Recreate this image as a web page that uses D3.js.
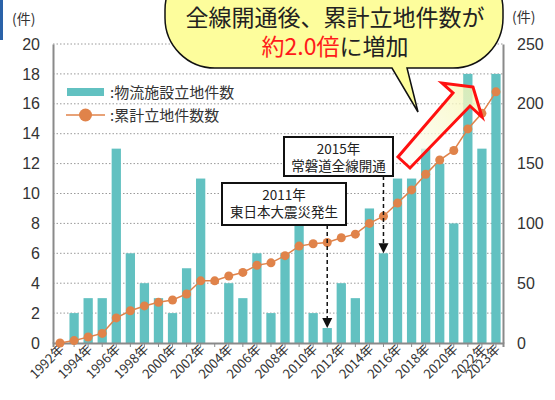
<!DOCTYPE html>
<html>
<head>
<meta charset="utf-8">
<script src="https://cdn.jsdelivr.net/npm/d3@7"></script>
<style>
  body { margin: 0; background: #fff; }
  svg { display: block; font-family: "Noto Sans CJK JP", "Noto Sans", sans-serif; }
</style>
</head>
<body>
<div class="chart"></div>
<script>
// data
const years = d3.range(1992, 2024).map(String);
const facilities = [0, 2, 3, 3, 13, 6, 4, 3, 2, 5, 11, 0, 4, 3, 6, 2,
                    6, 8, 2, 1, 4, 3, 9, 6, 11, 11, 13, 12, 8, 18, 13, 18];
const cumulative = [0, 2, 5, 8, 21, 27, 31, 34, 36, 41, 52, 52, 56, 59, 65, 67,
                    73, 81, 83, 84, 88, 91, 100, 106, 117, 128, 141, 153, 161, 179, 192, 210];
const leftTicks = [0, 2, 4, 6, 8, 10, 12, 14, 16, 18, 20];
const rightTicks = [0, 50, 100, 150, 200, 250];
const labelYears = ["1992", "1994", "1996", "1998", "2000", "2002", "2004", "2006", "2008",
                    "2010", "2012", "2014", "2016", "2018", "2020", "2022", "2023"];

const width = 555, height = 400;
const plot = {left: 53, right: 503, top: 44, bottom: 343};

const svg = d3.select('.chart')
  .append('svg')
  .attr('width', width)
  .attr('height', height);

const x = d3.scaleBand()
  .domain(years)
  .range([plot.left, plot.right])
  .paddingInner(0.34)
  .paddingOuter(0.17);

const yL = d3.scaleLinear().domain([0, 20]).range([plot.bottom, plot.top]);
const yR = d3.scaleLinear().domain([0, 250]).range([plot.bottom, plot.top]);

// little blue strip top left
svg.append('rect').attr('x', 0).attr('y', 0).attr('width', 3).attr('height', 40).attr('fill', '#2a62a8');

// grid
svg.append('g')
  .selectAll('line')
  .data(leftTicks.filter(d => d > 0))
  .join('line')
  .attr('x1', plot.left).attr('x2', plot.right)
  .attr('y1', d => yL(d)).attr('y2', d => yL(d))
  .attr('stroke', '#9a9a9a')
  .attr('stroke-width', 1)
  .attr('stroke-dasharray', '1.5,2');

// bars
svg.append('g')
  .selectAll('rect')
  .data(years.map((y, i) => ({year: y, v: facilities[i]})))
  .join('rect')
  .attr('x', d => x(d.year))
  .attr('y', d => yL(d.v))
  .attr('width', x.bandwidth())
  .attr('height', d => plot.bottom - yL(d.v))
  .attr('fill', '#62c1c1');

// axes
const leftAxis = svg.append('g')
  .attr('transform', `translate(${plot.left},0)`)
  .call(d3.axisLeft(yL).tickValues(leftTicks).tickSize(0).tickPadding(13));
const rightAxis = svg.append('g')
  .attr('transform', `translate(${plot.right},0)`)
  .call(d3.axisRight(yR).tickValues(rightTicks).tickSize(0).tickPadding(14));
const bottomAxis = svg.append('g')
  .attr('transform', `translate(0,${plot.bottom})`)
  .call(d3.axisBottom(x).tickSize(4).tickFormat(''));

[leftAxis, rightAxis, bottomAxis].forEach(g => {
  g.select('.domain').attr('stroke', '#8a8a8a').attr('stroke-width', 2);
  g.selectAll('.tick line').attr('stroke', '#8a8a8a');
});
leftAxis.selectAll('text').attr('font-size', 16).attr('fill', '#333');
rightAxis.selectAll('text').attr('font-size', 16).attr('fill', '#333');

// x labels, rotated
svg.append('g')
  .selectAll('text')
  .data(labelYears)
  .join('text')
  .attr('transform', d => `translate(${x(d) + x.bandwidth() / 2 + 5},${plot.bottom + 7}) rotate(-45)`)
  .attr('text-anchor', 'end')
  .attr('font-size', 13)
  .attr('fill', '#333')
  .text(d => d + '年');

// unit labels
svg.append('text').attr('x', 12).attr('y', 24).attr('font-size', 14).attr('fill', '#333').text('(件)');
svg.append('text').attr('x', 512).attr('y', 22).attr('font-size', 14).attr('fill', '#333').text('(件)');

// cumulative line
const line = d3.line()
  .x((d, i) => x(years[i]) + x.bandwidth() / 2)
  .y(d => yR(d));

svg.append('path')
  .datum(cumulative)
  .attr('d', line)
  .attr('fill', 'none')
  .attr('stroke', '#e0834a')
  .attr('stroke-width', 1.5);

svg.append('g')
  .selectAll('circle')
  .data(cumulative)
  .join('circle')
  .attr('cx', (d, i) => x(years[i]) + x.bandwidth() / 2)
  .attr('cy', d => yR(d))
  .attr('r', 4.5)
  .attr('fill', '#e0834a');

// legend
const legend = svg.append('g');
legend.append('rect').attr('x', 67).attr('y', 88).attr('width', 37).attr('height', 8).attr('fill', '#62c1c1');
legend.append('text').attr('x', 110).attr('y', 97.5).attr('font-size', 15).attr('fill', '#333').text(':物流施設立地件数');
legend.append('line').attr('x1', 66).attr('x2', 105).attr('y1', 115).attr('y2', 115)
  .attr('stroke', '#e0834a').attr('stroke-width', 1.5);
legend.append('circle').attr('cx', 85.5).attr('cy', 115).attr('r', 6.5).attr('fill', '#e0834a');
legend.append('text').attr('x', 110).attr('y', 120.5).attr('font-size', 15).attr('fill', '#333').text(':累計立地件数数');

// annotation boxes with dashed arrows
function note(cx, bx, by, bw, bh, lines, val) {
  const g = svg.append('g');
  const tipY = yL(val);
  g.append('line')
    .attr('x1', cx).attr('x2', cx)
    .attr('y1', by + bh).attr('y2', tipY - 8)
    .attr('stroke', '#111').attr('stroke-width', 1.5)
    .attr('stroke-dasharray', '4,3');
  g.append('path')
    .attr('d', `M${cx - 5},${tipY - 10} L${cx + 5},${tipY - 10} L${cx},${tipY} Z`)
    .attr('fill', '#111');
  g.append('rect')
    .attr('x', bx).attr('y', by).attr('width', bw).attr('height', bh)
    .attr('fill', '#fff').attr('stroke', '#111').attr('stroke-width', 2);
  lines.forEach((t, i) => {
    g.append('text')
      .attr('x', bx + bw / 2).attr('y', by + 17 + i * 17)
      .attr('text-anchor', 'middle')
      .attr('font-size', 13.5)
      .attr('fill', '#222')
      .text(t);
  });
}
note(x('2011') + x.bandwidth() / 2, 222, 183, 124, 42, ['2011年', '東日本大震災発生'], facilities[19]);
note(x('2015') + x.bandwidth() / 2, 284, 137, 109, 39, ['2015年', '常磐道全線開通'], facilities[23]);

// big red arrow
const defs = svg.append('defs');
const grad = defs.append('linearGradient').attr('id', 'glow')
  .attr('x1', '0%').attr('y1', '100%').attr('x2', '100%').attr('y2', '0%');
grad.append('stop').attr('offset', '0%').attr('stop-color', '#fff').attr('stop-opacity', 0.7);
grad.append('stop').attr('offset', '100%').attr('stop-color', '#f6f6b0').attr('stop-opacity', 0.8);

svg.append('path')
  .attr('d', 'M473,87 L442,83 L453,93 L398,157 L410,168 L470,106 L482,117 Z')
  .attr('fill', 'url(#glow)')
  .attr('stroke', '#ff1010')
  .attr('stroke-width', 3)
  .attr('stroke-linejoin', 'miter');

// speech bubble
svg.append('path')
  .attr('d', 'M215,-40 H453 A50,50 0 0 1 503,10 V18 A50,50 0 0 1 453,68 H407 L418,112 L392,68 H215 A50,50 0 0 1 165,18 V10 A50,50 0 0 1 215,-40 Z')
  .attr('fill', '#fdfd9c')
  .attr('stroke', '#111')
  .attr('stroke-width', 1.5);

svg.append('text')
  .attr('x', 335).attr('y', 26)
  .attr('text-anchor', 'middle')
  .attr('font-size', 23)
  .attr('fill', '#222')
  .text('全線開通後、累計立地件数が');

const t2 = svg.append('text')
  .attr('x', 335).attr('y', 55)
  .attr('text-anchor', 'middle')
  .attr('font-size', 23);
t2.append('tspan').attr('fill', '#ff1a1a').text('約2.0倍');
t2.append('tspan').attr('fill', '#222').text('に増加');
</script>
</body>
</html>
